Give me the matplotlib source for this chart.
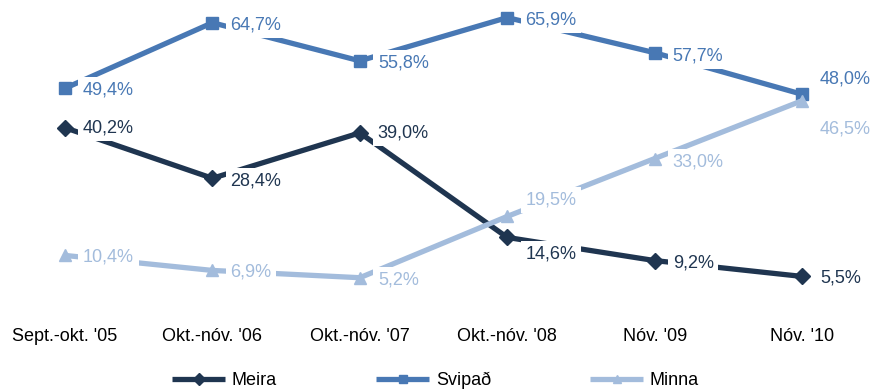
import matplotlib.pyplot as plt

# gögn lesin af myndinni
timabil = ["Sept.-okt. '05", "Okt.-nóv. '06", "Okt.-nóv. '07", "Okt.-nóv. '08", "Nóv. '09", "Nóv. '10"]
meira = [40.2, 28.4, 39.0, 14.6, 9.2, 5.5]
svipad = [49.4, 64.7, 55.8, 65.9, 57.7, 48.0]
minna = [10.4, 6.9, 5.2, 19.5, 33.0, 46.5]

plt.rcParams['font.family'] = ['Liberation Sans', 'DejaVu Sans']

litir = {'Meira': '#1F3550', 'Svipað': '#4878B4', 'Minna': '#A3BCDC'}
merki = {'Meira': 'D', 'Svipað': 's', 'Minna': '^'}
# tilfærsla merkimiða (pixlar) fyrir hvern punkt
hlidrun = {
    'Meira': [0, -3, 0, -17, -2, -2],
    'Svipað': [-2, -2, -2, -2, -3, 15],
    'Minna': [-2, -2, -2, 16, -3, -28],
}

fig = plt.figure(figsize=(8.75, 3.89), dpi=100)
ax = fig.add_axes([0, 89 / 389, 1, 300 / 389])
x = list(range(len(timabil)))

for nafn, gildi in [('Meira', meira), ('Svipað', svipad), ('Minna', minna)]:
    ax.plot(x, gildi, color=litir[nafn], lw=3.8, marker=merki[nafn], ms=8,
            label=nafn, solid_capstyle='butt', zorder=2)
    for i, v in enumerate(gildi):
        ax.annotate(f"{v:.1f}%".replace('.', ','), (i, v), xytext=(18, hlidrun[nafn][i]),
                    textcoords='offset pixels', ha='left', va='center', fontsize=13,
                    color=litir[nafn], zorder=3,
                    bbox=dict(boxstyle='square,pad=0.25', fc='white', ec='none'))

ax.set_xlim(-0.441, 5.495)
ax.set_ylim(0, 70)
ax.set_xticks(x)
ax.set_xticklabels(timabil, fontsize=13)
ax.tick_params(axis='x', length=0, pad=20)
ax.set_yticks([])
for s in ax.spines.values():
    s.set_visible(False)

fig.legend(loc='center', bbox_to_anchor=(0.498, 0.022), ncol=3, frameon=False,
           fontsize=13, handlelength=2.9, handletextpad=0.4, columnspacing=5.5,
           markerscale=0.75)

fig.savefig('out.png', dpi=100)
